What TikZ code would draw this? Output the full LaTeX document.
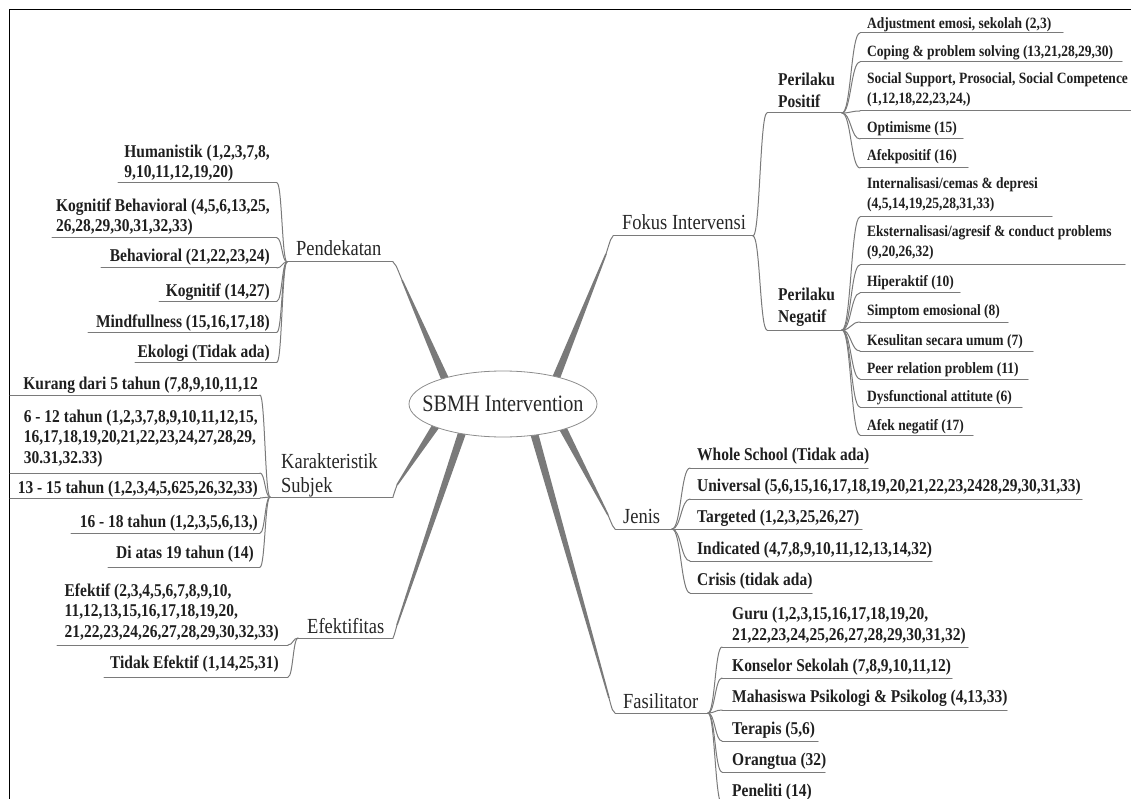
\documentclass[tikz,border=0pt]{standalone}
\usepackage{fontspec}
\setmainfont{Liberation Serif}[FakeStretch=0.86]
\usetikzlibrary{shapes.geometric,calc,backgrounds}
\tikzset{
  uline/.style={draw=black!52, line width=1pt},
  conn/.style={draw=black!52, line width=1pt},
  branch/.style={fill=black!52},
  lf/.style={font=\fontsize{18}{20.5}\selectfont\bfseries, text=black!88, inner sep=0pt, align=left},
  sf/.style={font=\fontsize{15.7}{20}\selectfont\bfseries, text=black!88, inner sep=0pt, align=left},
  pf/.style={font=\fontsize{18}{21.5}\selectfont\bfseries, text=black!88, inner sep=0pt, align=left},
  mf/.style={font=\fontsize{21.5}{24}\selectfont, text=black!85, inner sep=0pt, align=left},
}
% left leaf: style, name, text right x, last baseline y, underline y, underline start x, underline end x, text
\newcommand\leafL[8]{%
  \node[#1, anchor=base east] (#2) at (#3,#4) {#8};
  \coordinate (#2-s) at (#6,#5);
  \coordinate (#2-e) at (#7,#5);
  \draw[uline] (#2-s) -- (#2-e);}
% right leaf: style, name, text left x, last baseline y, underline y, underline start x, underline end x, text
\newcommand\leafR[8]{%
  \node[#1, anchor=base west] (#2) at (#3,#4) {#8};
  \coordinate (#2-s) at (#6,#5);
  \coordinate (#2-e) at (#7,#5);
  \draw[uline] (#2-s) -- (#2-e);}
% tapered main branch: start, P, control, tip
\newcommand\mbranch[4]{%
  \fill[branch] let \p1=(#1), \p2=(#2), \n1={atan2(\y2-\y1,\x2-\x1)} in
    ($(\p1)+(\n1+90:4pt)$) -- ($(\p2)+(\n1+90:0.8pt)$) --
    ($(\p2)+(\n1-90:0.8pt)$) -- ($(\p1)+(\n1-90:4pt)$) -- cycle;
  \draw[conn] (#2) .. controls (#3) .. (#4);}
\begin{document}
\begin{tikzpicture}[x=1pt, y=-1pt, line join=round, line cap=round]
\useasboundingbox (0,0) rectangle (1131,799);
\draw[black, line width=1.3pt, line cap=butt] (9.5,799) -- (9.5,9.5) -- (1131,9.5);

% centre
\node[ellipse, draw=black!45, fill=white, line width=0.8pt, minimum width=188pt, minimum height=66pt,
      inner xsep=-30pt, inner ysep=-5pt, font=\fontsize{23.5}{26}\selectfont, text=black!85] (sbmh) at (503,404) {SBMH Intervention};

% ---------- Pendekatan ----------
\node[mf, anchor=base west] (pend) at (296,256) {Pendekatan};
\coordinate (pendH) at (287,262);
\coordinate (pendT) at (393,262);
\draw[uline] (pendH) -- (pendT);
\leafL{lf}{hum}{270}{178}{183}{118}{277}{Humanistik (1,2,3,7,8,\\9,10,11,12,19,20)}
\leafL{lf}{kb}{270}{232}{238}{52}{277}{Kognitif Behavioral (4,5,6,13,25,\\26,28,29,30,31,32,33)}
\leafL{lf}{beh}{270}{262}{268}{101}{277}{Behavioral (21,22,23,24)}
\leafL{lf}{kog}{270}{296}{301}{159}{277}{Kognitif (14,27)}
\leafL{lf}{mind}{270}{327}{332}{88}{277}{Mindfullness (15,16,17,18)}
\leafL{lf}{eko}{270}{357}{362}{135}{277}{Ekologi (Tidak ada)}
\foreach \c in {hum,kb,beh,kog,mind,eko}
  \draw[conn] (pendH) .. controls +(-5,0) and +(5,0) .. (\c-e);

% ---------- Karakteristik Subjek ----------
\node[mf, anchor=base west] (kar) at (281,492) {Karakteristik\\Subjek};
\coordinate (karH) at (270,497);
\coordinate (karT) at (393,497);
\draw[uline] (karH) -- (karT);
\leafL{lf}{kur}{258}{389}{395}{10}{260}{Kurang dari 5 tahun (7,8,9,10,11,12}
\leafL{lf}{six}{258}{463}{473}{10}{260}{6 - 12 tahun (1,2,3,7,8,9,10,11,12,15,\\16,17,18,19,20,21,22,23,24,27,28,29,\\30.31,32.33)}
\leafL{lf}{thi}{258}{493}{498}{10}{260}{13 - 15 tahun (1,2,3,4,5,625,26,32,33)}
\leafL{lf}{sxt}{258}{527}{533}{71}{260}{16 - 18 tahun (1,2,3,5,6,13,)}
\leafL{lf}{dia}{254}{558}{567}{108}{260}{Di atas 19 tahun (14)}
\foreach \c in {kur,six,thi,sxt,dia}
  \draw[conn] (karH) .. controls +(-5,0) and +(5,0) .. (\c-e);

% ---------- Efektifitas ----------
\node[mf, anchor=base west] (efe) at (307,633) {Efektifitas};
\coordinate (efH) at (298,638);
\coordinate (efT) at (393,638);
\draw[uline] (efH) -- (efT);
\leafL{lf}{efk}{279}{637}{645}{57}{288}{Efektif (2,3,4,5,6,7,8,9,10,\\11,12,13,15,16,17,18,19,20,\\21,22,23,24,26,27,28,29,30,32,33)}
\leafL{lf}{tef}{279}{668}{677}{104}{288}{Tidak Efektif (1,14,25,31)}
\foreach \c in {efk,tef}
  \draw[conn] (efH) .. controls +(-5,0) and +(5,0) .. (\c-e);

% ---------- Fokus Intervensi ----------
\node[mf, anchor=base west] (fok) at (622,230) {Fokus Intervensi};
\coordinate (fokT) at (613,236);
\coordinate (fokH) at (753,236);
\draw[uline] (fokT) -- (fokH);
\leafR{pf}{pos}{778}{107.5}{113}{767}{842}{Perilaku\\Positif}
\leafR{pf}{neg}{778}{322.5}{330}{767}{842}{Perilaku\\Negatif}
\foreach \c in {pos,neg}
  \draw[conn] (fokH) .. controls +(7,0) and +(-7,0) .. (\c-s);

\leafR{sf}{adj}{867}{29}{33}{860}{1063}{Adjustment emosi, sekolah (2,3)}
\leafR{sf}{cop}{867}{57}{62}{860}{1122}{Coping \& problem solving (13,21,28,29,30)}
\leafR{sf}{soc}{867}{104}{111}{860}{1140}{Social Support, Prosocial, Social Competence\\(1,12,18,22,23,24,)}
\leafR{sf}{opt}{867}{133}{139}{860}{963}{Optimisme (15)}
\leafR{sf}{afp}{867}{161}{168}{860}{968}{Afekpositif (16)}
\foreach \c in {adj,cop,soc,opt,afp}
  \draw[conn] (pos-e) .. controls +(9,0) and +(-9,0) .. (\c-s);

\leafR{sf}{int}{867}{209}{217}{860}{1052}{Internalisasi/cemas \& depresi\\(4,5,14,19,25,28,31,33)}
\leafR{sf}{eks}{867}{257}{265}{860}{1125}{Eksternalisasi/agresif \& conduct problems\\(9,20,26,32)}
\leafR{sf}{hip}{867}{287}{293}{860}{960}{Hiperaktif (10)}
\leafR{sf}{sim}{867}{316}{322}{860}{1008}{Simptom emosional (8)}
\leafR{sf}{kes}{867}{345}{351}{860}{1033}{Kesulitan secara umum (7)}
\leafR{sf}{peer}{867}{373}{379}{860}{1028}{Peer relation problem (11)}
\leafR{sf}{dys}{867}{401}{407}{860}{1022}{Dysfunctional attitute (6)}
\leafR{sf}{afn}{867}{430}{435}{860}{973}{Afek negatif (17)}
\foreach \c in {int,eks,hip,sim,kes,peer,dys,afn}
  \draw[conn] (neg-e) .. controls +(9,0) and +(-9,0) .. (\c-s);

% ---------- Jenis ----------
\node[mf, anchor=base west] (jen) at (623,523) {Jenis};
\coordinate (jenT) at (615,529);
\coordinate (jenH) at (672,529);
\draw[uline] (jenT) -- (jenH);
\leafR{lf}{who}{697}{460}{468}{690}{868}{Whole School (Tidak ada)}
\leafR{lf}{uni}{697}{491}{499}{690}{1082}{Universal (5,6,15,16,17,18,19,20,21,22,23,2428,29,30,31,33)}
\leafR{lf}{tar}{697}{522}{529}{690}{862}{Targeted (1,2,3,25,26,27)}
\leafR{lf}{ind}{697}{554}{561}{690}{932}{Indicated (4,7,8,9,10,11,12,13,14,32)}
\leafR{lf}{cri}{697}{585}{593}{690}{812}{Crisis (tidak ada)}
\foreach \c in {who,uni,tar,ind,cri}
  \draw[conn] (jenH) .. controls +(9,0) and +(-9,0) .. (\c-s);

% ---------- Fasilitator ----------
\node[mf, anchor=base west] (fas) at (623,708) {Fasilitator};
\coordinate (fasT) at (615,713);
\coordinate (fasH) at (708,713);
\draw[uline] (fasT) -- (fasH);
\leafR{lf}{guru}{732}{640}{647}{722}{968}{Guru (1,2,3,15,16,17,18,19,20,\\21,22,23,24,25,26,27,28,29,30,31,32)}
\leafR{lf}{kon}{732}{671}{678}{722}{952}{Konselor Sekolah (7,8,9,10,11,12)}
\leafR{lf}{mah}{732}{702}{710}{722}{1007}{Mahasiswa Psikologi \& Psikolog (4,13,33)}
\leafR{lf}{ter}{732}{734}{741}{722}{818}{Terapis (5,6)}
\leafR{lf}{ora}{732}{765}{772}{722}{825}{Orangtua (32)}
\leafR{lf}{pnl}{732}{796}{804}{722}{820}{Peneliti (14)}
\foreach \c in {guru,kon,mah,ter,ora,pnl}
  \draw[conn] (fasH) .. controls +(7,0) and +(-7,0) .. (\c-s);

% ---------- main branches ----------
\begin{pgfonlayer}{background}
\mbranch{$(sbmh.center)!0.85!(sbmh.160)$}{402,280}{395.5,264}{pendT}
\mbranch{$(sbmh.center)!0.85!(sbmh.23)$}{606,254}{611,238}{fokT}
\mbranch{$(sbmh.center)!0.85!(sbmh.195)$}{397,485}{393.5,495}{karT}
\mbranch{$(sbmh.center)!0.85!(sbmh.212)$}{397,625}{394,636}{efT}
\mbranch{$(sbmh.center)!0.85!(sbmh.341)$}{608,515}{613,527}{jenT}
\mbranch{$(sbmh.center)!0.85!(sbmh.319)$}{609,698}{612.5,711}{fasT}
\end{pgfonlayer}
\end{tikzpicture}
\end{document}
